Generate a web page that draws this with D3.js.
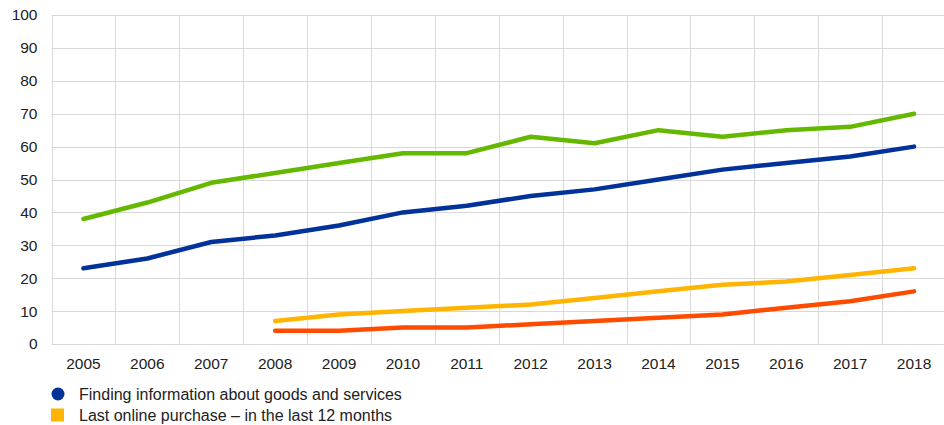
<!DOCTYPE html>
<html>
<head>
<meta charset="utf-8">
<script src="https://cdn.jsdelivr.net/npm/d3@7"></script>
<style>
  body { margin: 0; background: #fff; }
  text { font-family: "Liberation Sans", Arial, sans-serif; fill: #222; }
</style>
</head>
<body>
<div id="viz"></div>
<script>
var years = [2005, 2006, 2007, 2008, 2009, 2010, 2011, 2012, 2013, 2014, 2015, 2016, 2017, 2018];

// share of individuals (%)
var findingInfo = [23, 26, 31, 33, 36, 40, 42, 45, 47, 50, 53, 55, 57, 60];
var usingInternet = [38, 43, 49, 52, 55, 58, 58, 63, 61, 65, 63, 65, 66, 70];
var lastPurchase = [null, null, null, 7, 9, 10, 11, 12, 14, 16, 18, 19, 21, 23];
var purchaseOther = [null, null, null, 4, 4, 5, 5, 6, 7, 8, 9, 11, 13, 16];

var yTicks = [0, 10, 20, 30, 40, 50, 60, 70, 80, 90, 100];

var legendItems = [
  {label: 'Finding information about goods and services', color: '#003299', shape: 'circle'},
  {label: 'Last online purchase \u2013 in the last 12 months', color: '#ffb400', shape: 'square'}
];

var series = [
  {values: usingInternet, color: '#65b800'},
  {values: findingInfo, color: '#003299'},
  {values: lastPurchase, color: '#ffb400'},
  {values: purchaseOther, color: '#ff4b00'}
];

var width = 944,
    height = 425,
    margin = {top: 15, right: -2, bottom: 81, left: 51.5};

var svg = d3.select('#viz').append('svg')
  .attr('width', width)
  .attr('height', height);

var x = d3.scaleBand()
  .domain(years)
  .range([margin.left, width - margin.right]);

var y = d3.scaleLinear()
  .domain([0, 100])
  .range([height - margin.bottom, margin.top]);

// grid
var grid = svg.append('g').attr('class', 'grid');
grid.selectAll('line.h')
  .data(yTicks)
  .enter().append('line')
  .attr('class', 'h')
  .attr('x1', margin.left).attr('x2', width - margin.right)
  .attr('y1', d => Math.round(y(d)) + 0.5).attr('y2', d => Math.round(y(d)) + 0.5)
  .attr('stroke', '#d9d9d9').attr('stroke-width', 1);

var vlines = years.map(d => x(d)).concat([x.range()[1]]);
grid.selectAll('line.v')
  .data(vlines)
  .enter().append('line')
  .attr('class', 'v')
  .attr('x1', d => Math.round(d) + 0.5).attr('x2', d => Math.round(d) + 0.5)
  .attr('y1', y(100)).attr('y2', y(0))
  .attr('stroke', '#d9d9d9').attr('stroke-width', 1);

// y axis labels
svg.append('g')
  .selectAll('text')
  .data(yTicks)
  .enter().append('text')
  .attr('x', 37.5)
  .attr('y', d => y(d))
  .attr('dy', '0.35em')
  .attr('text-anchor', 'end')
  .style('font-size', '15.5px')
  .text(d => d);

// x axis labels
svg.append('g')
  .selectAll('text')
  .data(years)
  .enter().append('text')
  .attr('x', d => x(d) + x.bandwidth() / 2)
  .attr('y', y(0) + 20)
  .attr('dy', '0.35em')
  .attr('text-anchor', 'middle')
  .style('font-size', '15.5px')
  .text(d => d);

// lines
var line = d3.line()
  .defined(d => d.v != null)
  .x(d => x(d.year) + x.bandwidth() / 2)
  .y(d => y(d.v));

series.forEach(function(s) {
  svg.append('path')
    .datum(years.map((yr, i) => ({year: yr, v: s.values[i]})))
    .attr('fill', 'none')
    .attr('stroke', s.color)
    .attr('stroke-width', 4.5)
    .attr('stroke-linecap', 'round')
    .attr('stroke-linejoin', 'round')
    .attr('d', line);
});

// legend
var legend = svg.append('g').attr('class', 'legend');
legendItems.forEach(function(item, i) {
  var ly = 394 + i * 21;
  if (item.shape === 'circle') {
    legend.append('circle')
      .attr('cx', 58).attr('cy', ly).attr('r', 6.5)
      .attr('fill', item.color);
  } else {
    legend.append('rect')
      .attr('x', 51).attr('y', ly - 6.5).attr('width', 13).attr('height', 13)
      .attr('fill', item.color);
  }
  legend.append('text')
    .attr('x', 79).attr('y', ly)
    .attr('dy', '0.35em')
    .style('font-size', '16px')
    .text(item.label);
});
</script>
</body>
</html>
